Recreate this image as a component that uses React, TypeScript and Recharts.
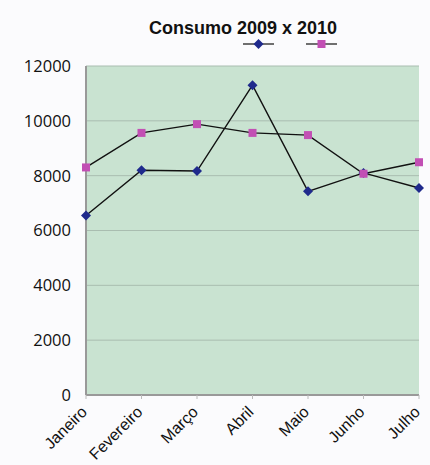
import { LineChart, Line, XAxis, YAxis, CartesianGrid } from "recharts";

const months = ["Janeiro", "Fevereiro", "Março", "Abril", "Maio", "Junho", "Julho"];
const consumo2009 = [6550, 8200, 8170, 11300, 7430, 8100, 7550];
const consumo2010 = [8300, 9560, 9880, 9560, 9480, 8070, 8490];
const yTicks = [0, 2000, 4000, 6000, 8000, 10000, 12000];

const COLOR_2009 = "#1f2a8c";
const COLOR_2010 = "#c24fb4";

const data = months.map((m, i) => ({
  month: m,
  y2009: consumo2009[i],
  y2010: consumo2010[i],
}));

const Diamond = (props: any) => {
  const { cx, cy, fill } = props;
  if (cx == null || cy == null) return null;
  const r = 5;
  return (
    <path
      d={`M${cx},${cy - r}L${cx + r},${cy}L${cx},${cy + r}L${cx - r},${cy}Z`}
      fill={fill}
    />
  );
};

const Square = (props: any) => {
  const { cx, cy, fill } = props;
  if (cx == null || cy == null) return null;
  const s = 4;
  return <rect x={cx - s} y={cy - s} width={s * 2} height={s * 2} fill={fill} />;
};

const MonthTick = (props: any) => {
  const { x, y, payload } = props;
  return (
    <text
      x={x + 2}
      y={y + 12}
      textAnchor="end"
      transform={`rotate(-45, ${x + 2}, ${y + 12})`}
      fontSize={16}
      fontFamily="'Liberation Sans', Arial, sans-serif"
      fill="#111"
    >
      {payload.value}
    </text>
  );
};

// legend has only the marker symbols, no names
const LegendIcons = () => (
  <svg
    width={100}
    height={14}
    style={{ position: "absolute", left: 243, top: 37, overflow: "visible" }}
  >
    <line x1={0} y1={7} x2={31} y2={7} stroke="#222" strokeWidth={1.3} />
    <path d="M15.5,2L20.5,7L15.5,12L10.5,7Z" fill={COLOR_2009} />
    <line x1={63} y1={7} x2={94} y2={7} stroke="#222" strokeWidth={1.3} />
    <rect x={74.5} y={3} width={8} height={8} fill={COLOR_2010} />
  </svg>
);

export default function App() {
  return (
    <div
      style={{
        position: "absolute",
        left: 0,
        top: 0,
        width: 430,
        height: 465,
        background: "#fbfbfd",
        fontFamily: "'Liberation Sans', Arial, sans-serif",
      }}
    >
      <LineChart
        width={430}
        height={465}
        data={data}
        margin={{ top: 66, right: 11, bottom: 0, left: 0 }}
      >
        <CartesianGrid vertical={false} stroke="#a9bdb0" fill="#c9e3d1" />
        <XAxis
          dataKey="month"
          height={70}
          padding={{ left: 0, right: 0 }}
          axisLine={{ stroke: "#999", strokeWidth: 2 }}
          tickLine={{ stroke: "#bbb" }}
          tickSize={4}
          tick={<MonthTick />}
          interval={0}
        />
        <YAxis
          width={86}
          domain={[0, 12000]}
          ticks={yTicks}
          axisLine={{ stroke: "#999", strokeWidth: 2 }}
          tickLine={false}
          tickMargin={9}
          tick={{ fontSize: 16.5, fill: "#111", fontFamily: "'Open Sans', sans-serif" }}
        />
        <Line
          dataKey="y2009"
          name="2009"
          stroke="#111"
          strokeWidth={1.4}
          fill={COLOR_2009}
          dot={<Diamond fill={COLOR_2009} />}
          activeDot={false}
          isAnimationActive={false}
        />
        <Line
          dataKey="y2010"
          name="2010"
          stroke="#111"
          strokeWidth={1.4}
          fill={COLOR_2010}
          dot={<Square fill={COLOR_2010} />}
          activeDot={false}
          isAnimationActive={false}
        />
      </LineChart>
      <div
        style={{
          position: "absolute",
          top: 18,
          left: 0,
          width: 486,
          textAlign: "center",
          fontSize: 18,
          fontWeight: "bold",
          color: "#111",
        }}
      >
        Consumo 2009 x 2010
      </div>
      <LegendIcons />
    </div>
  );
}
